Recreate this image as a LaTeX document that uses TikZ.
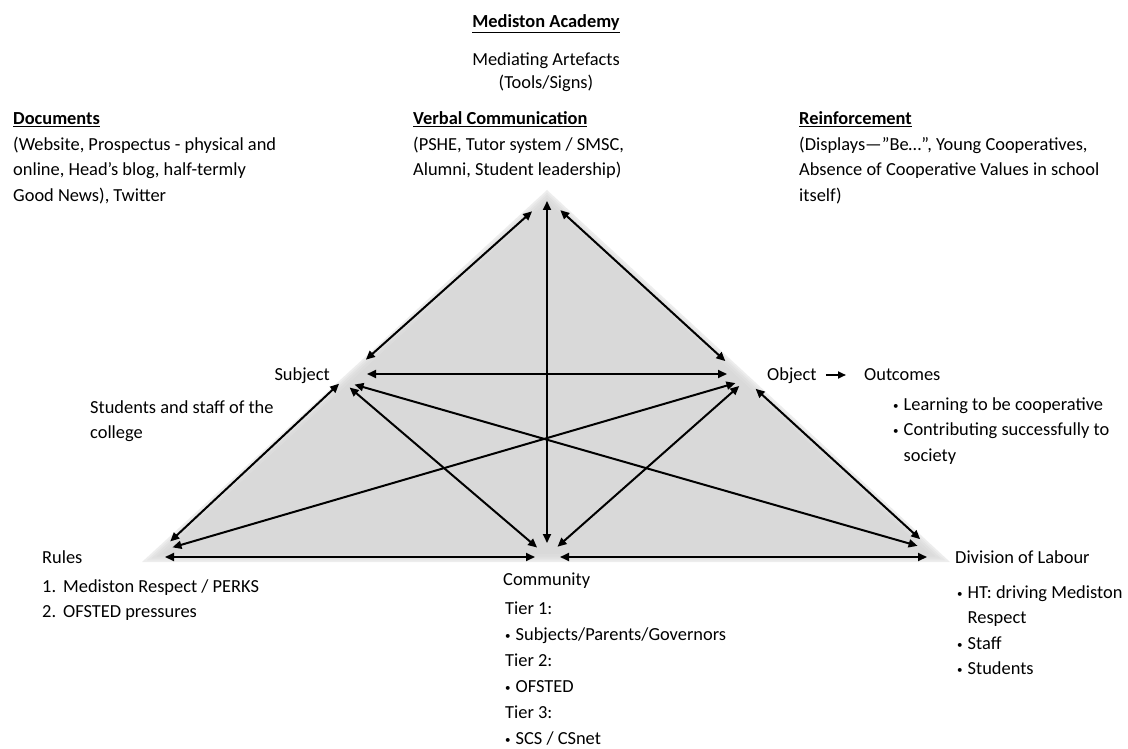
\documentclass[tikz,border=0pt]{standalone}
\usepackage{fontspec}
\setmainfont{Carlito}
\usetikzlibrary{arrows.meta}
\definecolor{panel}{HTML}{D9D9D9}
% a block of left (or centred) lines whose baseline is the first line
\newcommand{\lineblock}[2][l]{\begin{tabular}[t]{@{}#1@{}}#2\end{tabular}}
% small bullet with hanging indent
\newcommand{\bul}{\makebox[10.5pt][l]{\raisebox{1pt}{\fontsize{11}{11}\selectfont •}}}
\tikzset{
  link/.style={line width=2pt,{Triangle[length=9pt,width=8pt]}-{Triangle[length=9pt,width=8pt]}},
  pointer/.style={line width=2pt,-{Triangle[length=8pt,width=7pt]}},
  txt/.style={inner sep=0pt,font=\fontsize{18.4}{25.5}\selectfont,anchor=base west},
}
\begin{document}
\begin{tikzpicture}[x=1pt,y=-1pt]
\useasboundingbox (0,0) rectangle (1128,749);

% shaded activity triangle with softened edges
\coordinate (GT) at (547,190);
\coordinate (GL) at (142,562);
\coordinate (GR) at (950,562);
\fill[panel] (GT) -- (GL) -- (GR) -- cycle;
\foreach \w/\o in {16/0.10,11/0.14,7/0.2,3.5/0.3}
  \draw[white,line width=\w pt,opacity=\o,line join=miter,miter limit=10] (GT) -- (GL) -- (GR) -- cycle;

% points of the activity system
\coordinate (T) at (547,198);
\coordinate (S) at (342,381);
\coordinate (O) at (746,380);
\coordinate (R) at (160,551);
\coordinate (C) at (547,556);
\coordinate (D) at (932,550);

% connectors
\draw[link,shorten <=20pt,shorten >=32pt] (T) -- (S);
\draw[link,shorten <=18pt,shorten >=28pt] (T) -- (O);
\draw[link,shorten <=3pt,shorten >=13pt] (T) -- (C);
\draw[link,shorten <=25pt,shorten >=19pt] ([yshift=7pt]S) -- ([yshift=6pt]O);
\draw[link,shorten <=4pt,shorten >=14pt] (S) -- (R);
\draw[link,shorten <=10pt,shorten >=13pt] (S) -- (C);
\draw[link,shorten <=13pt,shorten >=15pt] (S) -- (D);
\draw[link,shorten <=11pt,shorten >=13pt] (O) -- (R);
\draw[link,shorten <=9pt,shorten >=14pt] (O) -- (C);
\draw[link,shorten <=13pt,shorten >=16pt] (O) -- (D);
\draw[link,shorten <=5pt,shorten >=12pt] ([yshift=-6pt]R) -- ([yshift=-1pt]C);
\draw[link,shorten <=13pt,shorten >=5pt] ([yshift=-1pt]C) -- ([yshift=-7pt]D);

% headings and texts
\node[txt,anchor=base] (title) at (546,28) {\textbf{\underline{Mediston Academy}}};
\node[txt,anchor=base] (artefacts) at (546,66) {\lineblock[c]{Mediating Artefacts\\[-2.5pt](Tools/Signs)}};
\node[txt] (verbal) at (413,125) {\lineblock{\textbf{\underline{Verbal Communication}}\\(PSHE, Tutor system / SMSC,\\Alumni, Student leadership)}};
\node[txt] (documents) at (13,125) {\lineblock{\textbf{\underline{Documents}}\\(Website, Prospectus - physical and\\online, Head’s blog, half-termly\\Good News), Twitter}};
\node[txt] (reinforcement) at (799,125) {\lineblock{\textbf{\underline{Reinforcement}}\\(Displays—”Be…”, Young Cooperatives,\\Absence of Cooperative Values in school\\itself)}};

\node[txt,anchor=base east] (subject) at (330,380) {Subject};
\node[txt] (subjdesc) at (90,413) {\lineblock{Students and staff of the\\college}};

\node[txt] (object) at (767,380) {Object};
\node[txt] (outcomes) at (864,380) {Outcomes};
\draw[pointer,shorten <=9pt,shorten >=18pt] ([yshift=5pt]object.base east) -- ([yshift=5pt]outcomes.base west);
\node[txt] (outlist) at (893,410) {\lineblock{\bul Learning to be cooperative\\\bul Contributing successfully to\\\hspace*{10.5pt}society}};

\node[txt] (rules) at (42,563) {Rules};
\node[txt] (rulelist) at (42,592) {\lineblock{1.\hspace{7pt}Mediston Respect / PERKS\\2.\hspace{7pt}OFSTED pressures}};

\node[txt] (community) at (503,585) {Community};
\node[txt,font=\fontsize{18.4}{26}\selectfont] (commlist) at (505,614) {\lineblock{Tier 1:\\\bul Subjects/Parents/Governors\\Tier 2:\\\bul OFSTED\\Tier 3:\\\bul SCS / CSnet}};

\node[txt] (labour) at (955,563) {Division of Labour};
\node[txt] (labourlist) at (957,598) {\lineblock{\bul HT: driving Mediston\\\hspace*{10.5pt}Respect\\\bul Staff\\\bul Students}};
\end{tikzpicture}
\end{document}
